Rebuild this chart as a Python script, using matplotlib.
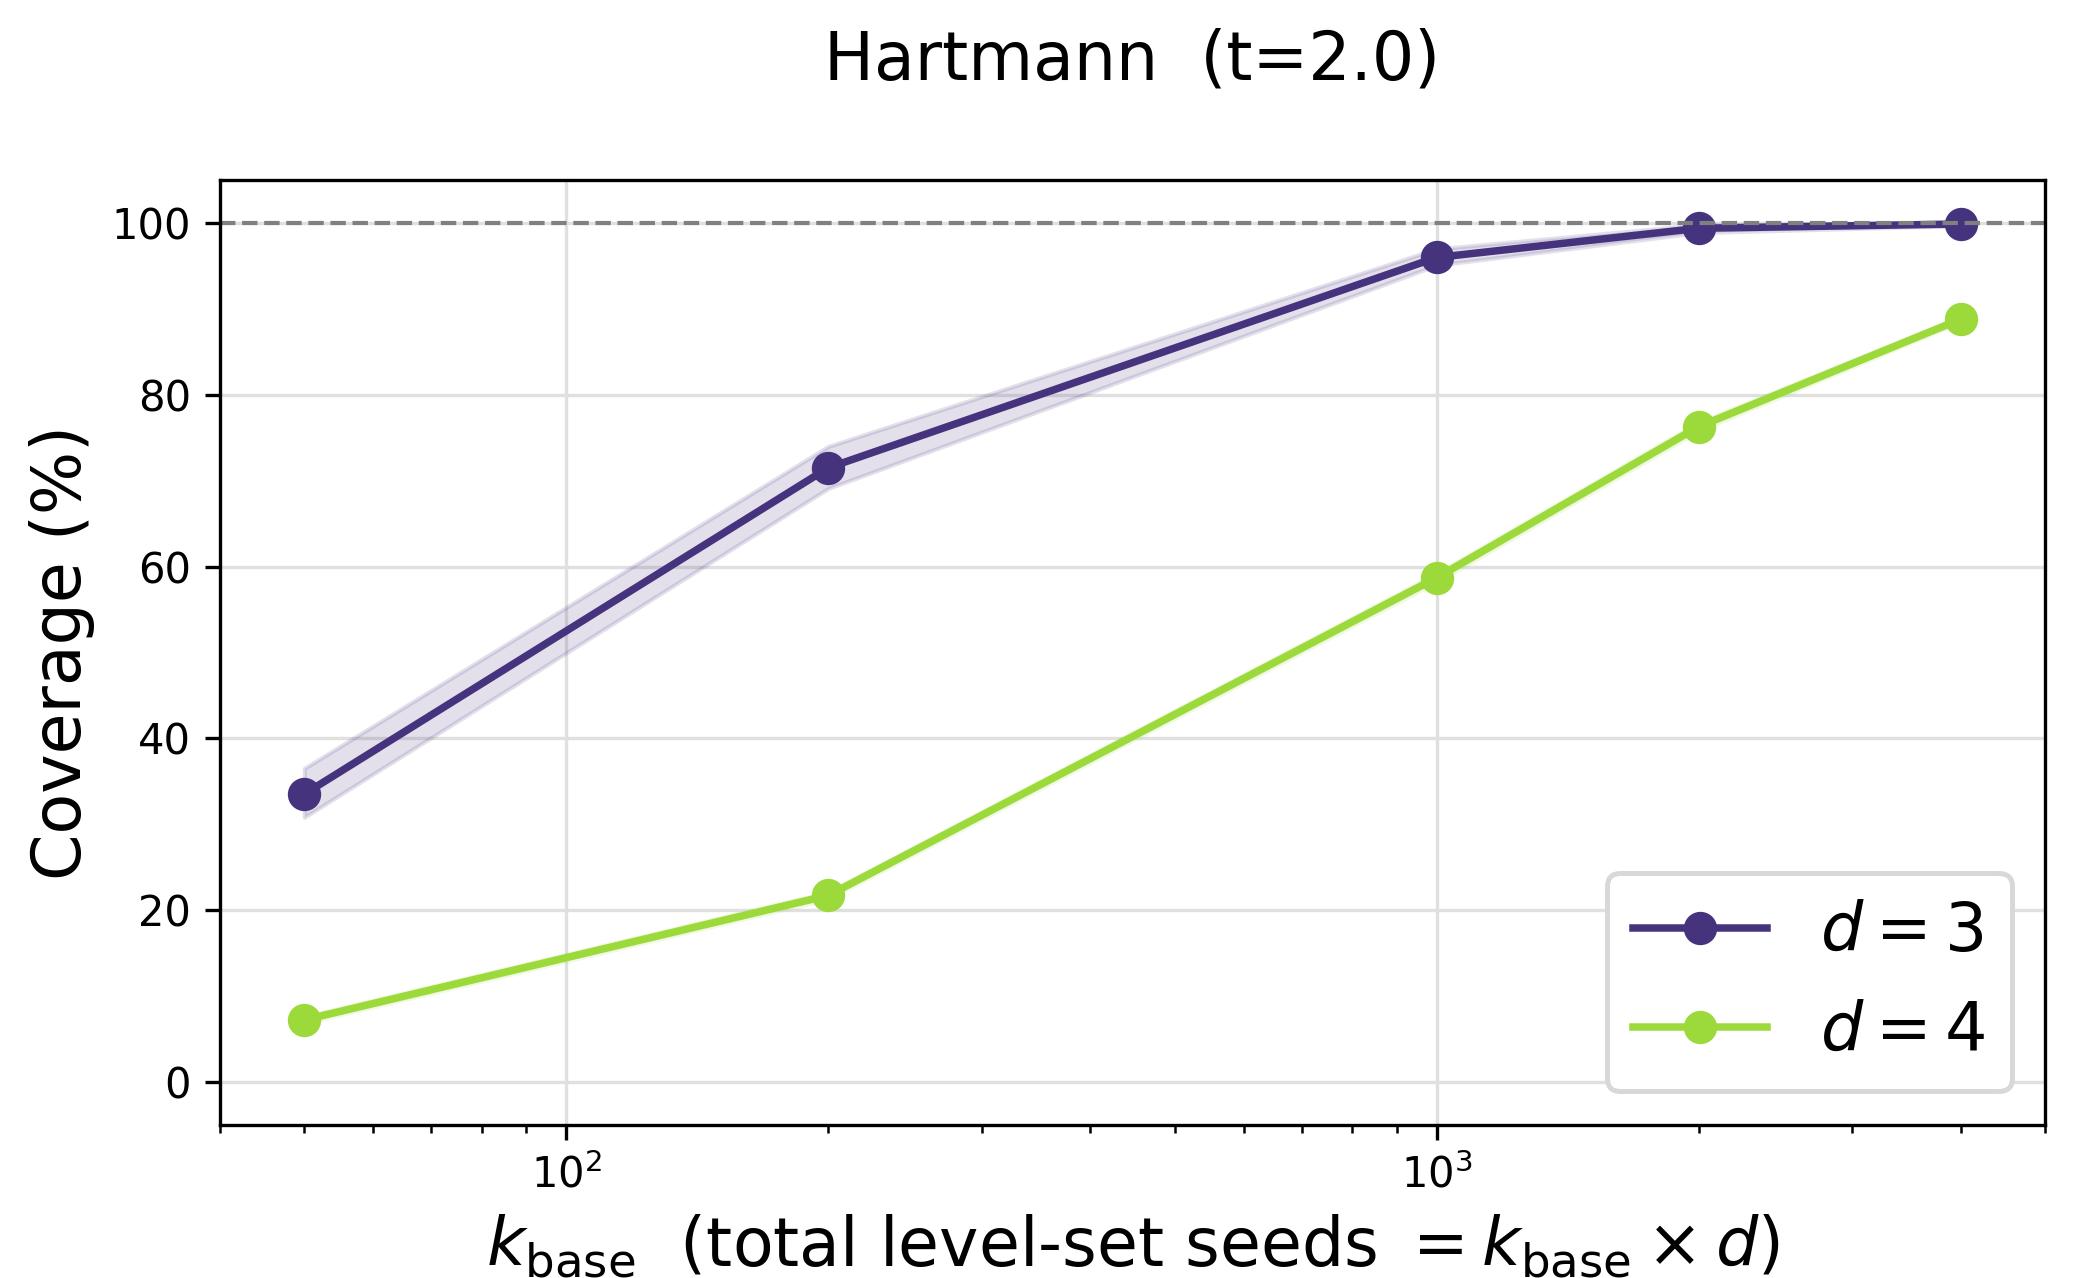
import matplotlib
matplotlib.use("Agg")
import matplotlib.pyplot as plt
import numpy as np

k_base = [50, 200, 1000, 2000, 4000]
cov_d3 = [33.5, 71.5, 96.0, 99.4, 99.9]
lo_d3 = [30.8, 69.1, 95.1, 98.9, 99.7]
hi_d3 = [36.5, 74.0, 97.0, 99.8, 100.0]
cov_d4 = [7.2, 21.7, 58.7, 76.3, 88.8]
lo_d4 = [6.8, 21.3, 58.2, 75.8, 88.5]
hi_d4 = [7.6, 22.1, 59.2, 76.8, 89.1]
labels = [r"$d = 3$", r"$d = 4$"]
colors = ["#46337e", "#9cd93b"]

fig = plt.figure(figsize=(2075/300, 1278/300), dpi=300)
ax = fig.add_axes([0.106, 0.120, 0.8795, 0.739])

for y, lo, hi, lab, c in [(cov_d3, lo_d3, hi_d3, labels[0], colors[0]),
                          (cov_d4, lo_d4, hi_d4, labels[1], colors[1])]:
    ax.fill_between(k_base, lo, hi, color=c, alpha=0.15)
    ax.plot(k_base, y, marker="o", color=c, lw=1.8, ms=7, label=lab)

ax.axhline(100, color="gray", ls="--", lw=1)
ax.set_xscale("log")
ax.set_xlim(40, 5000)
ax.set_ylim(-5, 105)
ax.set_yticks([0, 20, 40, 60, 80, 100])
ax.grid(True, which="major", color="#e0e0e0", lw=0.8)
ax.set_axisbelow(True)
ax.tick_params(labelsize=10)
ax.set_ylabel("Coverage (%)", fontsize=16)
ax.set_xlabel(r"$k_{\mathrm{base}}$  (total level-set seeds $= k_{\mathrm{base}} \times d$)", fontsize=16)
fig.text(0.106 + 0.8795 / 2, 0.953, "Hartmann  (t=2.0)", fontsize=16, ha="center", va="center")
leg = ax.legend(loc="lower right", fontsize=16, framealpha=1, edgecolor="#d8d8d8")
leg.get_frame().set_linewidth(1.2)

fig.savefig("out.png", dpi=300)
